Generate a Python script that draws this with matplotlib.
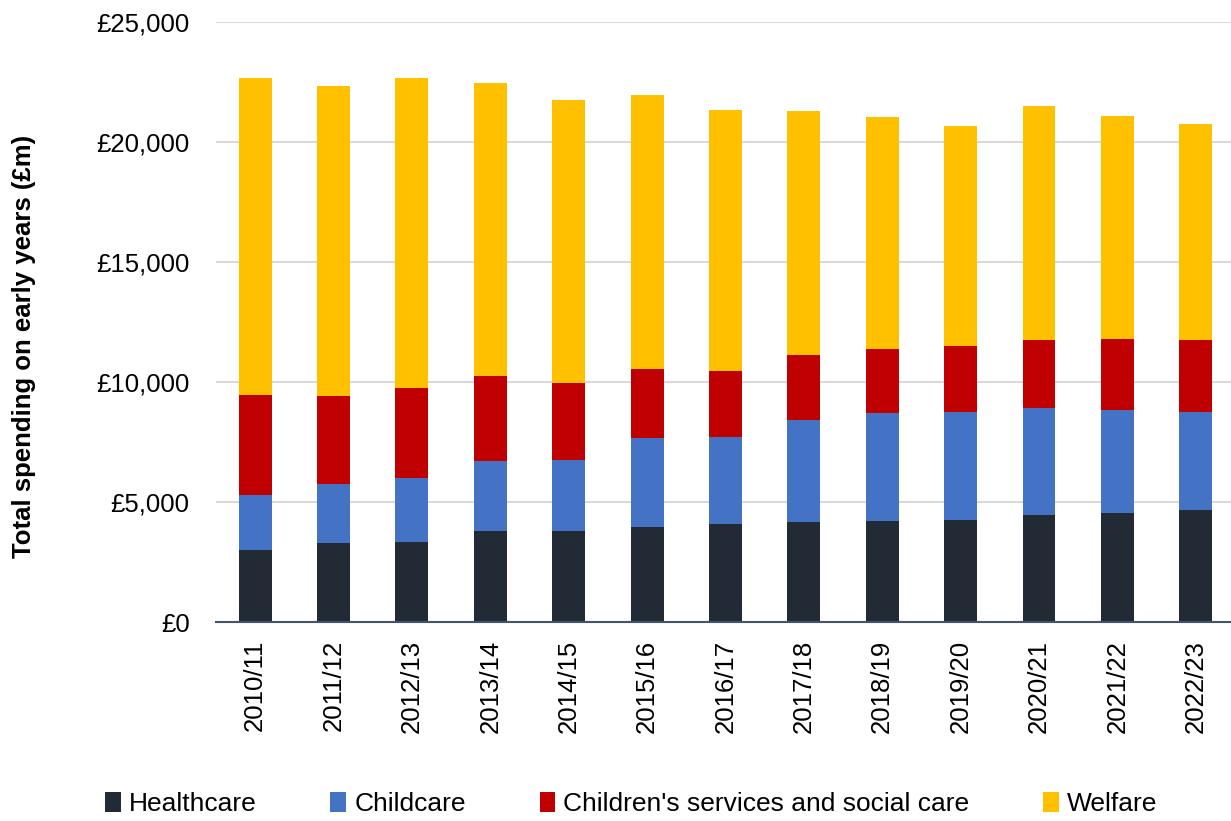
import numpy as np
import matplotlib
matplotlib.use("Agg")
import matplotlib.pyplot as plt
from matplotlib.ticker import FuncFormatter

plt.rcParams['font.family'] = ['Liberation Sans', 'DejaVu Sans']

years = ['2010/11', '2011/12', '2012/13', '2013/14', '2014/15', '2015/16', '2016/17',
         '2017/18', '2018/19', '2019/20', '2020/21', '2021/22', '2022/23']

# spending in £m
healthcare = [2990, 3290, 3320, 3780, 3780, 3960, 4090, 4160, 4190, 4240, 4450, 4540, 4650]
childcare = [2290, 2450, 2670, 2910, 2960, 3710, 3600, 4270, 4510, 4490, 4460, 4280, 4120]
social_care = [4160, 3660, 3780, 3540, 3210, 2870, 2750, 2680, 2660, 2750, 2820, 2960, 2960]
welfare = [13230, 12950, 12880, 12240, 11820, 11420, 10910, 10200, 9700, 9200, 9790, 9320, 9040]

series = [
    ('Healthcare', healthcare, '#222A35'),
    ('Childcare', childcare, '#4472C4'),
    ("Children's services and social care", social_care, '#C00000'),
    ('Welfare', welfare, '#FFC000'),
]

fig = plt.figure(figsize=(12.31, 8.21), dpi=100)
ax = fig.add_axes([216 / 1231, 1 - 622 / 821, 1015 / 1231, 600 / 821])

x = np.arange(len(years))
bottom = np.zeros(len(years))
for name, vals, col in series:
    ax.bar(x, vals, width=0.42, bottom=bottom, color=col, label=name, zorder=3)
    bottom += np.array(vals)

ax.set_ylim(0, 25000)
ax.set_xlim(-0.5, 12.45)
ax.set_yticks(np.arange(0, 25001, 5000))
ax.yaxis.set_major_formatter(FuncFormatter(lambda v, p: '£{:,.0f}'.format(v)))
ax.set_xticks(x)
ax.set_xticklabels(years, rotation=90)
ax.tick_params(axis='y', length=0, pad=19, labelsize=18.5)
ax.tick_params(axis='x', length=0, pad=13, labelsize=18.5)
ax.grid(axis='y', color='#d9d9d9', linewidth=1.5, zorder=0)

for s in ['top', 'right', 'left']:
    ax.spines[s].set_visible(False)
ax.spines['bottom'].set_color('#44546A')
ax.spines['bottom'].set_linewidth(1.5)
ax.spines['bottom'].set_zorder(4)

ax.set_ylabel('Total spending on early years (£m)', fontsize=18.5, fontweight='bold')
ax.yaxis.set_label_coords(-0.177, 0.46)

fig.legend(loc='center left', bbox_to_anchor=(105 / 1231, 1 - 804 / 821), ncol=4,
           frameon=False, fontsize=19, handlelength=0.6, handleheight=0.8,
           handletextpad=0.3, columnspacing=2.8, borderaxespad=0, borderpad=0)

fig.savefig('out.png', dpi=100)
